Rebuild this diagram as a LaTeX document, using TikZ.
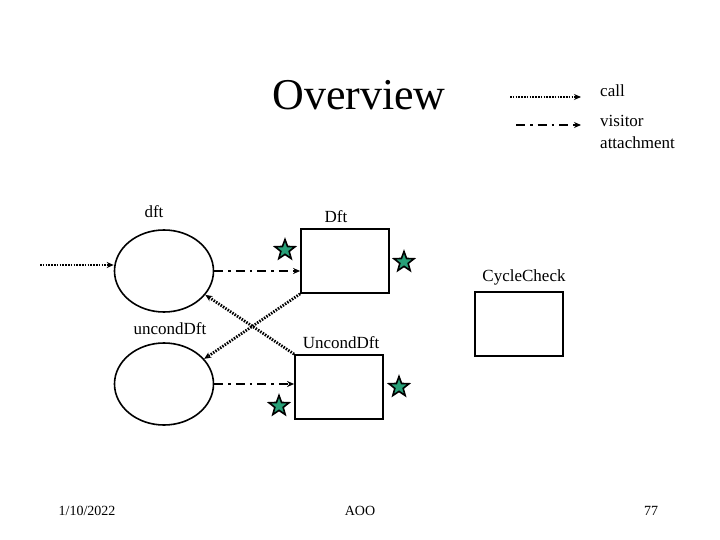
\documentclass[tikz,border=0pt]{standalone}
\usepackage{fontspec}
\setmainfont{Liberation Serif}
\usetikzlibrary{arrows.meta,shapes.geometric}

\definecolor{stargreen}{RGB}{40,160,120}

\begin{document}
\begin{tikzpicture}[x=1pt,y=-1pt,
  oval/.style={ellipse,draw=black,line width=1.6pt,minimum width=99pt,minimum height=82pt,inner sep=0pt},
  box/.style={rectangle,draw=black,line width=1.8pt,minimum width=88pt,minimum height=64pt,inner sep=0pt},
  lbl/.style={font=\fontsize{17}{22}\selectfont,inner sep=0pt},
  foot/.style={font=\fontsize{14}{16}\selectfont,inner sep=0pt},
  mark star/.style={star,star points=5,star point ratio=2.4,minimum size=21pt,inner sep=0pt,
    fill=stargreen,draw=black,line width=1.6pt},
  callline/.style={-{Stealth[length=7pt,width=6pt]},line width=2.8pt,dash pattern=on 1.5pt off 1.3pt},
  visitline/.style={-{Stealth[length=7pt,width=6pt]},line width=2.8pt,dash pattern=on 9pt off 5pt on 2.5pt off 5pt}
]
\useasboundingbox (0,0) rectangle (720,540);

% title and legend
\node[font=\fontsize{44}{48}\selectfont,inner sep=0pt] (title) at (359,95) {Overview};
\coordinate (callfrom) at (510,97);
\coordinate (callto) at (581,97);
\draw[callline] (callfrom) -- (callto);
\node[lbl,anchor=west] (calltxt) at (600,91) {call};
\coordinate (visitfrom) at (516,125);
\coordinate (visitto) at (581,125);
\draw[visitline] (visitfrom) -- (visitto);
\node[lbl,anchor=north west,align=left] (visittxt) at (600,115) {visitor\\attachment};

% traversals
\node[oval] (dft) at (164,271) {};
\node[lbl] (dftlbl) at (154,212) {dft};
\node[oval] (uncond) at (164,384) {};
\node[lbl] (uncondlbl) at (170,329) {uncondDft};

% visitor classes
\node[box] (Dft) at (345,261) {};
\node[lbl] (Dftlbl) at (336,217) {Dft};
\node[box] (Uncond) at (339,387) {};
\node[lbl] (Uncondlbl) at (341,343) {UncondDft};
\node[box] (cycle) at (519,324) {};
\node[lbl] (cyclelbl) at (524,277) {CycleCheck};

% stars
\node[mark star] (s1) at (285,250) {};
\node[mark star] (s2) at (404,262) {};
\node[mark star] (s3) at (279,406) {};
\node[mark star] (s4) at (399,387) {};

% connectors
\coordinate (entry) at (40,265);
\draw[callline] (entry) -- (dft.west |- entry);
\draw[visitline] (dft.east) -- (Dft.west |- dft.east);
\draw[visitline] (uncond.east) -- (Uncond.west |- uncond.east);
\draw[callline] (Dft.south west) -- (uncond.32);
\draw[callline] (Uncond.north west) -- (dft.-30);

% footer
\node[foot] (date) at (87,511) {1/10/2022};
\node[foot] (course) at (360,511) {AOO};
\node[foot] (page) at (651,511) {77};
\end{tikzpicture}
\end{document}
